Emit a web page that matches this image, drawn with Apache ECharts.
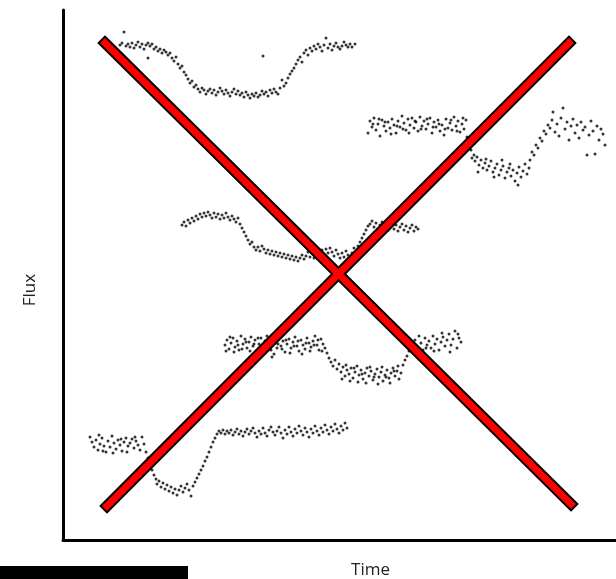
<!DOCTYPE html>
<html lang="en">
<head>
<meta charset="UTF-8">
<title>Flux vs Time</title>
<script src="https://cdn.jsdelivr.net/npm/echarts@6/dist/echarts.min.js"></script>
<style>
  html, body { margin: 0; padding: 0; background: #fff; }
  #main { width: 616px; height: 579px; }
</style>
</head>
<body>
<div id="main"></div>
<script type="text/javascript">
// light curves, [time, flux]
var curveA = [[57,495],[59,497],[61,508],[63,494],[65,496],[67,493],[69,497],[71,492],[73,495],[75,498],[77,493],[79,496],[81,491],[83,495],[85,497],[85,482],[87,494],[89,496],[91,491],[93,493],[95,489],[97,491],[99,487],[101,490],[103,488],[105,485],[107,487],[109,482],[111,479],[113,483],[115,476],[117,472],[119,474],[121,468],[123,465],[125,461],[127,457],[129,459],[131,453],[133,455],[135,451],[137,448],[139,452],[141,450],[143,446],[145,449],[147,451],[149,447],[151,450],[153,445],[155,448],[157,452],[159,449],[161,446],[163,450],[165,447],[167,444],[169,448],[171,451],[173,446],[175,449],[177,445],[179,447],[181,443],[183,448],[185,445],[187,442],[189,446],[191,444],[193,447],[195,443],[197,445],[199,449],[200,484],[201,446],[203,448],[205,444],[207,450],[209,447],[211,451],[213,448],[215,446],[217,452],[219,460],[221,454],[223,457],[225,462],[227,466],[229,469],[231,472],[233,476],[235,480],[237,483],[239,478],[241,487],[243,490],[245,485],[247,492],[249,489],[251,494],[253,491],[255,496],[257,493],[259,489],[261,495],[263,502],[265,492],[267,496],[269,490],[271,494],[273,497],[275,493],[277,491],[279,494],[281,498],[283,495],[285,493],[287,496],[289,493],[292,496]];

var curveB = [[305,407],[307,419],[309,413],[311,422],[313,410],[315,416],[317,404],[319,420],[321,414],[323,409],[325,418],[327,412],[329,421],[331,415],[333,407],[335,419],[337,413],[339,424],[341,417],[343,410],[345,421],[347,415],[349,422],[351,412],[353,418],[355,409],[357,423],[359,414],[361,419],[363,411],[365,416],[367,422],[369,407],[371,418],[373,413],[375,420],[377,409],[379,415],[381,405],[383,421],[385,412],[387,417],[389,410],[391,423],[393,414],[395,419],[397,408],[399,416],[401,411],[403,420],[404,403],
  [310,416],[316,421],[322,418],[328,406],[334,414],[340,411],[346,407],[352,419],[358,411],[364,421],[370,413],[376,416],[382,411],[388,420],[394,409],[400,422],
  [406,397],[408,390],[409,382],[411,385],
  [412,379],[414,383],[416,375],[418,380],[420,372],[422,377],[424,370],[426,374],[428,379],[430,368],[432,372],[434,376],[436,365],[438,370],[440,374],[442,362],[444,368],[446,372],[448,364],[450,370],[452,359],[454,367],[456,373],[458,363],[460,369],[462,376],[464,366],[466,372],
  [415,368],[423,381],[431,363],[439,380],[447,376],[455,355],
  [467,380],[469,388],[471,385],[473,395],[475,392],[477,402],[479,399],[481,409],[483,406],[485,415],
  [487,412],[489,420],[490,428],[492,408],[494,416],[496,404],[498,422],[500,432],[502,411],[504,418],[506,400],[508,414],[510,421],[512,407],[514,415],[516,402],[518,418],[520,410],[522,413],[524,385],[526,405],[528,419],[530,409],[532,386],[534,414],[536,400],[538,411],[540,406],[542,395]];

var curveC = [[119,315],[121,318],[123,314],[125,320],[127,317],[129,322],[131,319],[133,324],[135,321],[137,326],[139,323],[141,327],[143,324],[145,328],[147,325],[149,322],[151,327],[153,323],[155,326],[157,321],[159,325],[161,322],[163,327],[165,323],[167,320],[169,324],[171,321],[173,318],[175,322],[177,316],[179,312],[181,308],[183,304],[185,300],[187,296],[189,298],[191,293],[193,290],[195,293],[197,289],[199,294],[201,291],[203,287],[205,290],[207,286],[209,289],[211,285],[213,288],[215,284],[217,287],[219,283],[221,286],[223,282],[225,285],[227,281],[229,284],[231,280],[233,283],[235,279],[237,282],[239,285],[241,281],[243,284],[245,288],[247,283],[249,287],[251,282],[253,286],[255,289],[257,285],[259,290],[261,286],[263,291],[265,287],[267,292],[269,288],[271,284],[273,290],[275,286],[277,282],[279,287],[281,283],[283,289],[285,285],[287,281],[289,287],[291,292],[293,288],[295,294],[297,298],[299,302],[301,306],[303,310],[305,314],[307,316],[309,319],[311,313],[313,317],[315,311],[317,315],[319,318],[321,312],[323,316],[325,310],[327,314],[329,317],[331,311],[333,315],[335,309],[337,313],[339,316],[341,310],[343,314],[345,308],[347,312],[349,315],[351,309],[353,313],[355,311]];

var curveD = [[162,195],[164,200],[166,191],[168,197],[170,202],[172,193],[174,199],[176,190],[178,204],[180,196],[182,201],[184,192],[186,198],[188,203],[190,194],[192,200],[194,189],[196,196],[198,202],[200,193],[202,199],[204,204],[206,195],[208,190],[210,201],[212,197],[214,192],[216,203],[218,194],[220,199],[222,188],[224,196],[226,201],[228,192],[230,198],[232,203],[234,194],[236,189],[238,200],[240,195],[242,191],[244,202],[246,197],[248,193],[250,199],[252,204],[254,195],[256,190],[258,201],[260,196],[262,192],
  [163,189],[167,203],[171,188],[175,195],[179,191],[183,198],[187,189],[191,196],[195,202],[199,188],[203,193],[207,199],[211,186],[215,196],[219,191],[223,200],[227,187],[231,194],[235,199],[239,186],[243,197],[247,189],[251,195],[255,200],[259,189],[209,183],
  [264,187],[266,182],[268,178],[270,174],[272,180],[274,171],[276,176],
  [278,168],[280,173],[282,164],[284,170],[286,166],[288,172],[290,162],[292,168],[294,174],[296,165],[298,170],[300,161],[302,167],[304,172],[306,164],[308,169],[310,160],[312,166],[314,171],[316,163],[318,168],[320,159],[322,165],[324,170],[326,162],[328,167],[330,172],[332,164],[334,169],[336,161],[338,167],
  [279,161],[283,175],[287,159],[291,172],[295,158],[299,166],[303,157],[307,173],[311,163],[315,156],[319,173],[323,163],[327,157],[331,169],[335,174],
  [340,175],[342,180],[344,184],[346,189],[348,194],[350,197],
  [352,200],[354,193],[356,204],[358,197],[360,190],[362,202],[364,195],[366,199],[368,192],[370,204],[372,196],[374,201],[376,190],[378,198],[380,203],[382,194],[384,200],[386,206],[388,195],[390,201],[392,209],[394,192],[396,202],[398,198],
  [355,188],[363,192],[371,189],[379,207],[387,188],[395,206]];

var curveE = [[27,103],[29,98],[31,93],[33,100],[35,90],[37,96],[39,102],[41,94],[43,88],[45,99],[47,93],[49,104],[51,97],[53,91],[55,100],[57,95],[59,89],[61,98],[63,102],[65,94],[67,97],[69,101],[71,92],[73,99],[75,95],[77,90],[79,103],[81,96],
  [36,105],[40,89],[50,87],[58,101],[64,88],[72,103],
  [83,88],[85,82],[87,76],[89,70],[91,65],[93,61],
  [94,56],[96,59],[98,53],[100,57],[102,51],[104,55],[106,49],[108,53],[110,47],[112,51],[114,45],[116,50],[118,54],[120,48],[122,52],[124,56],[126,50],[128,44],[130,54],[132,58],
  [134,62],[136,66],[138,70],[140,74],[142,79],[144,83],[146,88],[148,93],[150,98],[152,102],
  [154,106],[156,109],[158,107],[160,110],[162,106],[164,109],[166,107],[168,110],[170,105],[172,108],[174,111],[176,106],[178,109],[180,104],[182,108],[184,111],[186,106],[188,109],[190,112],[192,107],[194,103],[196,109],[198,106],[200,112],[202,107],[204,104],[206,110],[208,113],[210,108],[212,105],[214,109],[216,113],[218,107],[220,102],[222,110],[224,106],[226,113],[228,108],[230,104],[232,111],[234,107],[236,114],[238,109],[240,105],[242,112],[244,108],[246,103],[248,111],[250,107],[252,114],[254,109],[256,105],[258,112],[260,108],[262,115],[264,110],[266,106],[268,113],[270,109],[272,116],[274,111],[276,107],[278,114],[280,110],[282,117],[284,112]];

// the red cross
var crossDown = [[42,497],[508,36]];
var crossUp = [[44,34],[506,497]];

var timeMax = 553;
var fluxMax = 530;

var myChart = echarts.init(document.getElementById('main'));

function dots(d) {
  return {
    type: 'scatter',
    data: d,
    symbol: 'circle',
    symbolSize: 3,
    itemStyle: { color: '#000' },
    silent: true,
    z: 2
  };
}

function bar(d, color, w, z) {
  return {
    type: 'line',
    data: d,
    symbol: 'none',
    lineStyle: { color: color, width: w, cap: 'square' },
    silent: true,
    z: z
  };
}

myChart.setOption({
  animation: false,
  grid: { left: 63, top: 10, width: 553, height: 530, outerBoundsMode: 'none' },
  xAxis: {
    type: 'value', min: 0, max: timeMax,
    name: 'Time', nameLocation: 'middle', nameGap: 22,
    nameTextStyle: { fontFamily: 'Open Sans', fontSize: 17, color: '#222', padding: [0, 0, 0, 62] },
    axisLine: { lineStyle: { color: '#000', width: 3 } },
    axisTick: { show: false }, axisLabel: { show: false }, splitLine: { show: false }
  },
  yAxis: {
    type: 'value', min: 0, max: fluxMax,
    name: 'Flux', nameLocation: 'middle', nameGap: 24, nameRotate: 90,
    nameTextStyle: { fontFamily: 'Open Sans', fontSize: 17, color: '#222', padding: [0, 30, 0, 0] },
    axisLine: { show: true, lineStyle: { color: '#000', width: 3 } },
    axisTick: { show: false }, axisLabel: { show: false }, splitLine: { show: false }
  },
  graphic: [{
    type: 'rect',
    shape: { x: 0, y: 566, width: 188, height: 13 },
    style: { fill: '#000' }
  }],
  series: [
    dots(curveA), dots(curveB), dots(curveC), dots(curveD), dots(curveE),
    bar(crossDown, '#000', 11, 3), bar(crossUp, '#000', 11, 3),
    bar(crossDown, '#ff0000', 7, 4), bar(crossUp, '#ff0000', 7, 4)
  ]
});
</script>
</body>
</html>
